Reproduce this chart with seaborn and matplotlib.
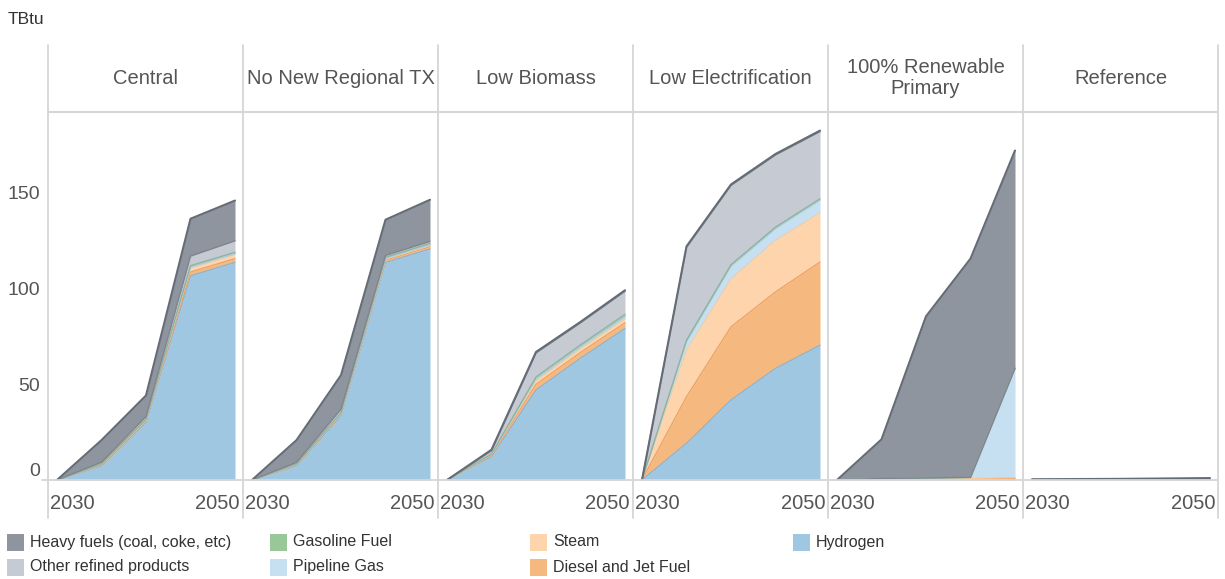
import numpy as np
import pandas as pd
import matplotlib
matplotlib.use("Agg")
import matplotlib.pyplot as plt
import seaborn as sns
from matplotlib.lines import Line2D
from matplotlib.patches import Rectangle

# ---------------- data ----------------
years = [2030, 2035, 2040, 2045, 2050]
scenarios = ["Central", "No New Regional TX", "Low Biomass",
             "Low Electrification", "100% Renewable\nPrimary", "Reference"]

# one row per scenario (same order as `scenarios`), one value per year (TBtu)
hydrogen = [
    [0, 7.3, 30.0, 106.5, 113.5],
    [0, 7.3, 33.5, 113.5, 120.5],
    [0, 12.2, 46.9, 63.5, 79.0],
    [0, 19.1, 41.7, 58.2, 70.3],
    [0, 0, 0, 0, 0],
    [0, 0, 0, 0, 0],
]
diesel_jet = [
    [0, 0.5, 0.8, 2.0, 2.0],
    [0, 0.5, 0.8, 1.2, 1.2],
    [0, 0.6, 3.0, 3.0, 3.0],
    [0, 24.3, 38.2, 39.9, 43.4],
    [0, 0.3, 0.4, 0.5, 0.8],
    [0, 0, 0, 0, 0],
]
steam = [
    [0, 0.2, 0.3, 2.0, 2.0],
    [0, 0.2, 0.3, 0.5, 0.6],
    [0, 0.3, 1.8, 1.8, 1.9],
    [0, 24.3, 25.1, 26.9, 25.7],
    [0, 0.2, 0.3, 0.3, 0.4],
    [0, 0, 0, 0, 0],
]
pipeline_gas = [
    [0, 0.1, 0.2, 0.5, 0.5],
    [0, 0.1, 0.2, 0.3, 0.3],
    [0, 0.2, 1.0, 1.1, 1.2],
    [0, 4.5, 6.6, 6.2, 6.6],
    [0, 0.2, 0.3, 0.5, 57.0],
    [0, 0, 0, 0, 0],
]
gasoline = [
    [0, 0.2, 0.3, 0.8, 0.8],
    [0, 0.2, 0.3, 0.7, 0.8],
    [0, 0.2, 1.0, 1.1, 1.3],
    [0, 0.7, 0.7, 0.7, 0.7],
    [0, 0, 0, 0, 0],
    [0, 0, 0, 0, 0],
]
other_refined = [
    [0, 1.0, 1.5, 5.0, 6.0],
    [0, 0.9, 1.9, 1.0, 1.1],
    [0, 1.8, 12.6, 11.5, 12.1],
    [0, 48.5, 41.4, 37.7, 35.1],
    [0, 0.1, 0.1, 0.1, 0.1],
    [0.1, 0.1, 0.1, 0.1, 0.1],
]
heavy_fuels = [
    [0, 11.5, 11.0, 19.5, 21.0],
    [0, 11.6, 17.7, 18.6, 21.7],
    [0, 0.5, 0.5, 0.5, 0.5],
    [0, 0.5, 0.5, 0.5, 0.5],
    [0, 20.4, 84.3, 114.1, 113.6],
    [0.3, 0.4, 0.5, 0.7, 0.9],
]

# stacking order bottom -> top
series_names = ["Hydrogen", "Diesel and Jet Fuel", "Steam", "Pipeline Gas",
                "Gasoline Fuel", "Other refined products",
                "Heavy fuels (coal, coke, etc)"]
series_data = [hydrogen, diesel_jet, steam, pipeline_gas, gasoline,
               other_refined, heavy_fuels]

fill_colors = {
    "Hydrogen": "#9fc7e2",
    "Diesel and Jet Fuel": "#f5b87e",
    "Steam": "#fdd4ac",
    "Pipeline Gas": "#c6dff1",
    "Gasoline Fuel": "#98c897",
    "Other refined products": "#c5cad3",
    "Heavy fuels (coal, coke, etc)": "#8f959e",
}
edge_colors = {
    "Hydrogen": "#86b6d9",
    "Diesel and Jet Fuel": "#eea263",
    "Steam": "#fbc995",
    "Pipeline Gas": "#aecfe8",
    "Gasoline Fuel": "#8db39f",
    "Other refined products": "#7f8690",
    "Heavy fuels (coal, coke, etc)": "#656c75",
}
edge_widths = {
    "Hydrogen": 1.0, "Diesel and Jet Fuel": 1.0, "Steam": 0.8,
    "Pipeline Gas": 0.8, "Gasoline Fuel": 1.0,
    "Other refined products": 1.0, "Heavy fuels (coal, coke, etc)": 1.5,
}

# legend layout (column-wise as in reference)
legend_items = [
    ["Heavy fuels (coal, coke, etc)", "Other refined products"],
    ["Gasoline Fuel", "Pipeline Gas"],
    ["Steam", "Diesel and Jet Fuel"],
    ["Hydrogen"],
]

# ---------------- style ----------------
sns.set_theme(style="white")
plt.rcParams['font.family'] = ['Liberation Sans', 'DejaVu Sans']

W, H = 1225, 579
fig = plt.figure(figsize=(W / 100, H / 100), dpi=100)


def fx(px):
    return px / W


def fy(py):
    return 1 - py / H


rule = "#d6d6d6"
txt = "#555555"
panel_left0, panel_w = 48, 195
top_px, base_px = 112, 480
x_lo = 2030 - 9 / 8.9
x_hi = 2050 + 8 / 8.9

axes = []
for i, scen in enumerate(scenarios):
    left = panel_left0 + i * panel_w
    ax = fig.add_axes([fx(left), fy(base_px), panel_w / W, (base_px - top_px) / H])
    axes.append(ax)

    rows = []
    cum = np.zeros(len(years))
    for name, arr in zip(series_names, series_data):
        vals = np.array(arr[i], dtype=float)
        lower = cum.copy()
        cum = cum + vals
        for y, lo, hi in zip(years, lower, cum):
            rows.append({"year": y, "series": name, "lower": lo, "upper": hi})
    df = pd.DataFrame(rows)

    for name in series_names:
        d = df[df["series"] == name]
        ax.fill_between(d["year"], d["lower"], d["upper"],
                        color=fill_colors[name], linewidth=0, zorder=2)
    for name in series_names:
        d = df[df["series"] == name]
        sns.lineplot(data=d, x="year", y="upper", color=edge_colors[name],
                     linewidth=edge_widths[name], ax=ax, zorder=3,
                     legend=False, estimator=None)

    ax.set_xlim(x_lo, x_hi)
    ax.set_ylim(0, 192)
    ax.set_xlabel("")
    ax.set_ylabel("")
    ax.set_xticks([])
    ax.set_yticks([0, 50, 100, 150])
    for s in ax.spines.values():
        s.set_visible(False)
    ax.tick_params(axis="y", length=0)
    if i == 0:
        ax.tick_params(axis="y", labelsize=14, labelcolor=txt, pad=6)
        ax.set_yticklabels(["0", "50", "100", "150"])
        ax.get_yticklabels()[0].set_va("bottom")
    else:
        ax.tick_params(axis="y", labelleft=False)

    # x labels (first / last year)
    ax.text(2 / panel_w, -14 / (base_px - top_px), str(years[0]),
            transform=ax.transAxes, ha="left", va="top", fontsize=14.5, color=txt)
    ax.text(1 - 3 / panel_w, -14 / (base_px - top_px), str(years[-1]),
            transform=ax.transAxes, ha="right", va="top", fontsize=14.5, color=txt)

    # panel header
    fig.text(fx(left + panel_w / 2), fy(78), scen, ha="center", va="center",
             fontsize=14.5, color=txt, linespacing=1.1)

# rules
for i in range(len(scenarios) + 1):
    xp = panel_left0 + i * panel_w
    fig.add_artist(Line2D([fx(xp), fx(xp)], [fy(45), fy(518)],
                          color=rule, linewidth=1.3, zorder=5))
fig.add_artist(Line2D([fx(panel_left0), fx(panel_left0 + 6 * panel_w)],
                      [fy(top_px), fy(top_px)], color=rule, linewidth=1.5, zorder=5))
fig.add_artist(Line2D([fx(42), fx(panel_left0 + 6 * panel_w)],
                      [fy(base_px), fy(base_px)], color=rule, linewidth=1.3, zorder=5))

# unit label
fig.text(fx(8), fy(19), "TBtu", ha="left", va="center", fontsize=12.5, color="#333333")

# legend
col_x = [7, 270, 530, 793]
row_y = [542, 567]
sw = 17
for cx, items in zip(col_x, legend_items):
    for ry, name in zip(row_y, items):
        fig.add_artist(Rectangle((fx(cx), fy(ry + sw / 2)), sw / W, sw / H,
                                 facecolor=fill_colors[name], edgecolor="none",
                                 transform=fig.transFigure))
        fig.text(fx(cx + sw + 6), fy(ry), name, ha="left", va="center",
                 fontsize=11.5, color="#333333")

fig.savefig("out.png", dpi=100)
